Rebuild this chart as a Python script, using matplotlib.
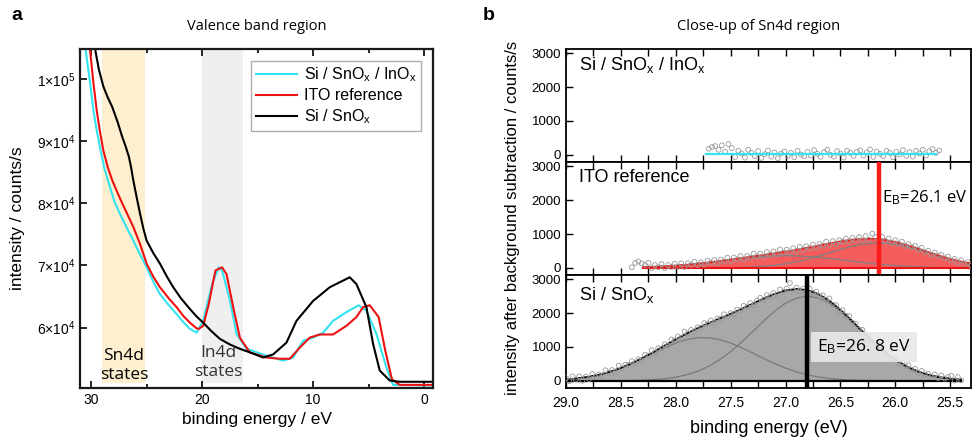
import numpy as np
import matplotlib.pyplot as plt
from matplotlib.ticker import MultipleLocator

plt.rcParams['font.family'] = ['Liberation Sans', 'DejaVu Sans']
plt.rcParams['mathtext.fontset'] = 'custom'
plt.rcParams['mathtext.rm'] = 'Liberation Sans'
plt.rcParams['mathtext.it'] = 'Liberation Sans:italic'

# ---- panel a: valence band spectra (binding energy eV, counts/s) ----
e_blk = [29.64, 29.3, 28.9, 28.5, 28.1, 27.6, 27.2, 26.9, 26.6, 26.4, 26.2, 25.9, 25.6, 25.3, 25.0, 24.4,
         23.8, 23.2, 22.6, 21.9, 21.1, 20.5, 19.9, 19.2, 18.4, 17.5, 16.6, 15.5, 14.5, 13.6, 12.4, 11.5,
         10.0, 8.5, 6.7, 6.1, 5.2, 4.6, 4.0, 3.1, 2.2, -0.8]
i_blk = [104800, 101500, 98800, 97000, 95500, 93000, 90700, 89200, 87500, 85800, 83700, 81000, 78400, 76000, 74000, 72000,
         70300, 68300, 66500, 64700, 63000, 61800, 60800, 59500, 58200, 57300, 56600, 55900, 55200, 55700, 57600, 61100,
         64300, 66500, 68100, 67000, 63300, 57400, 53100, 51500, 51300, 51300]

e_cyn = [30.5, 30.1, 29.8, 29.5, 29.2, 28.8, 28.3, 27.9, 27.4, 26.8, 26.2, 25.6, 25.0, 24.4, 23.8, 23.0,
         22.3, 21.7, 21.1, 20.5, 19.9, 19.1, 18.5, 18.2, 17.5, 16.9, 16.0, 14.2, 12.7, 11.8, 10.9, 10.0,
         9.1, 8.2, 7.0, 5.9, 5.2, 4.3, 3.4, 2.8, -0.8]
i_cyn = [104700, 99500, 95000, 91800, 89000, 85600, 82600, 80300, 78300, 76100, 74000, 71800, 69700, 67400, 65400, 63600,
         62200, 60900, 59800, 59200, 61100, 67000, 69700, 69200, 64400, 59000, 56600, 55500, 54700, 55200, 57900, 58400,
         59200, 61100, 62500, 63600, 62700, 59000, 53600, 50800, 50700]

e_red = [30.1, 29.8, 29.5, 29.2, 28.9, 28.5, 28.1, 27.6, 27.2, 26.7, 26.2, 25.6, 25.0, 24.4, 23.8, 23.0,
         22.3, 21.7, 21.1, 20.5, 20.3, 19.9, 19.4, 18.8, 18.2, 17.8, 17.2, 16.6, 15.7, 14.2, 13.0, 12.1,
         11.2, 10.3, 9.4, 8.2, 7.0, 6.1, 5.5, 4.9, 4.1, 3.5, 2.9, 2.2, -0.8]
i_red = [104700, 99500, 95000, 91500, 88500, 85800, 83700, 81600, 80000, 78100, 76200, 73500, 70300, 68200, 66500, 64700,
         63300, 61900, 60800, 59900, 59800, 60300, 63800, 69200, 69700, 68600, 63300, 58400, 56000, 55200, 55000, 55000,
         56800, 58400, 58900, 58900, 60300, 61700, 63300, 63600, 61700, 56300, 51700, 50800, 50800]

a_labels = ['Si / SnO$_\\mathrm{x}$ / InO$_\\mathrm{x}$', 'ITO reference', 'Si / SnO$_\\mathrm{x}$']
a_yticks = [60000, 70000, 80000, 90000, 100000]
a_yticklabels = ['6×10$^4$', '7×10$^4$', '8×10$^4$', '9×10$^4$', '1×10$^5$']
sn4d_band = (29.0, 25.1)
in4d_band = (20.0, 16.3)

# ---- panel b: Sn4d close-up, fitted components on a 0.1 eV grid ----
e_fit_bot = [29.0, 28.9, 28.8, 28.7, 28.6, 28.5, 28.4, 28.3, 28.2, 28.1, 28.0, 27.9, 27.8, 27.7, 27.6, 27.5,
             27.4, 27.3, 27.2, 27.1, 27.0, 26.9, 26.8, 26.7, 26.6, 26.5, 26.4, 26.3, 26.2, 26.1, 26.0, 25.9,
             25.8, 25.7, 25.6, 25.5, 25.4]
c1_bot = [43, 72, 116, 180, 266, 377, 511, 663, 824, 981, 1117, 1219, 1273, 1273, 1219, 1117,
          981, 824, 663, 511, 377, 266, 180, 116, 72, 43, 24, 13, 7, 3, 2, 1,
          0, 0, 0, 0, 0]
c2_bot = [0, 0, 0, 1, 2, 5, 10, 19, 35, 63, 109, 180, 284, 430, 622, 862,
          1143, 1452, 1765, 2056, 2292, 2446, 2500, 2446, 2292, 2056, 1765, 1452, 1143, 862, 622, 430,
          284, 180, 109, 63, 35]

e_fit_mid = [28.3, 28.2, 28.1, 28.0, 27.9, 27.8, 27.7, 27.6, 27.5, 27.4, 27.3, 27.2, 27.1, 27.0, 26.9, 26.8,
             26.7, 26.6, 26.5, 26.4, 26.3, 26.2, 26.1, 26.0, 25.9, 25.8, 25.7, 25.6, 25.5, 25.4, 25.3]
c1_mid = [22, 33, 48, 68, 93, 124, 159, 198, 237, 276, 310, 337, 354, 360, 354, 337,
          310, 276, 237, 198, 159, 124, 93, 68, 48, 33, 22, 14, 8, 5, 3]
c2_mid = [0, 0, 0, 0, 0, 1, 2, 4, 8, 15, 27, 47, 77, 122, 181, 257,
          347, 446, 545, 633, 700, 735, 735, 700, 633, 545, 446, 347, 257, 181, 122]

e_fit_top = [27.72, 25.63]
fit_top = [30, 30]

# measured points (0.03 eV steps)
e_pts_bot = np.round(np.arange(29.0, 25.39, -0.03), 2)
pts_bot = [83, -8, 130, 39, 131, 4, 127, 52, 202, 122, 191, 157, 313, 239, 321, 265, 449, 366, 478, 469,
           581, 529, 638, 596, 767, 750, 904, 828, 963, 959, 1084, 1039, 1223, 1198, 1311, 1273, 1454, 1395, 1502, 1460,
           1577, 1571, 1705, 1678, 1781, 1712, 1843, 1835, 1966, 1898, 1999, 1972, 2106, 2080, 2214, 2180, 2296, 2231, 2367, 2452,
           2388, 2530, 2481, 2593, 2537, 2698, 2629, 2723, 2886, 2669, 2752, 2642, 2723, 2643, 2716, 2601, 2636, 2492, 2523, 2393,
           2434, 2244, 2235, 2065, 2087, 1924, 1911, 1717, 1690, 1513, 1505, 1351, 1346, 1151, 1133, 958, 982, 811, 819, 656,
           654, 516, 548, 430, 462, 328, 353, 234, 292, 191, 210, 119, 187, 86, 160, 66, 112, 150, 12, 113, 15]
e_pts_mid = np.round(np.arange(28.4, 25.30, -0.03), 2)
pts_mid = [15, 148, 190, 131, 84, 148, -9, 86, 20, 114, -2, 84, 30, 126, 33, 131, 28, 136, 86, 185,
           85, 166, 97, 217, 149, 232, 134, 246, 189, 302, 205, 309, 253, 346, 250, 354, 298, 422, 336, 420,
           324, 468, 382, 486, 401, 546, 452, 537, 453, 579, 505, 623, 531, 638, 587, 686, 594, 704, 653, 773,
           682, 790, 698, 816, 772, 867, 781, 884, 812, 911, 809, 939, 829, 1009, 910, 800, 921, 795, 867, 739,
           818, 712, 776, 640, 700, 610, 649, 537, 594, 461, 508, 386, 454, 352, 382, 283, 334, 218, 264, 160,
           226, 108, 169, 71]
e_pts_top = np.round(np.arange(27.7, 25.59, -0.03), 2)
pts_top = [180, 230, 260, 150, 280, 90, 320, 200, -60, 120, 40, -80, 150, 60, -40, 110, -90, 20, 130, -50,
           70, -100, 40, 100, -30, 60, -70, 120, 10, -40, 90, -20, 140, 30, -60, 80, 150, 0, -50, 110,
           40, -80, 120, 60, -30, 90, 130, -20, 70, 160, -60, 100, 30, -40, 120, 60, -70, 90, 10, 140,
           -30, 80, -50, 120, 40, 150, -20, 110, 170, 60, 130]

peak_ito = 26.15
peak_snox = 26.8
b_labels = ['Si / SnO$_\\mathrm{x}$ / InO$_\\mathrm{x}$', 'ITO reference', 'Si / SnO$_\\mathrm{x}$']

# ================= figure =================
fig = plt.figure(figsize=(9.72, 4.41), dpi=100)

axa = fig.add_axes([0.0823, 0.1202, 0.3632, 0.7687])
axa.axvspan(*sn4d_band, ymin=0.015, ymax=1, color='#fdefcf', lw=0, zorder=0)
axa.axvspan(*in4d_band, ymin=0.015, ymax=1, color='#efefef', lw=0, zorder=0)
axa.plot(e_cyn, i_cyn, color='#33e3ee', lw=1.5, label=a_labels[0])
axa.plot(e_red, i_red, color='#ee1111', lw=1.5, label=a_labels[1])
axa.plot(e_blk, i_blk, color='black', lw=1.5, label=a_labels[2])
axa.set_xlim(31.0, -0.8)
axa.set_ylim(50300, 104800)
axa.set_xticks([30, 20, 10, 0])
axa.xaxis.set_minor_locator(MultipleLocator(5))
axa.set_yticks(a_yticks, a_yticklabels)
axa.tick_params(which='both', direction='in', top=True, labelsize=10)
axa.tick_params(which='major', length=5, width=1.2)
axa.tick_params(which='minor', length=3, width=1.2)
axa.tick_params(axis='y', right=False)
for s in axa.spines.values():
    s.set_linewidth(1.6)
    s.set_color('#1a1a1a')
axa.set_xlabel('binding energy / eV', fontsize=12.5, labelpad=4)
axa.set_ylabel('intensity / counts/s', fontsize=12.5)
axa.yaxis.set_label_coords(-0.155, 0.5)
axa.set_title('Valence band region', fontsize=10.5, family='Open Sans', pad=14)
leg = axa.legend(loc='upper right', bbox_to_anchor=(0.975, 0.975), fontsize=11.5, frameon=True,
                 fancybox=False, edgecolor='#999999', handlelength=2.6, handletextpad=0.4,
                 labelspacing=0.25, borderpad=0.3, borderaxespad=0.2)
leg.get_frame().set_linewidth(1.0)
axa.text(27.05, 0.065, 'Sn4d\nstates', transform=axa.get_xaxis_transform(), ha='center', va='center',
         fontsize=12.5, family='Open Sans', linespacing=1.25)
axa.text(18.5, 0.074, 'In4d\nstates', transform=axa.get_xaxis_transform(), ha='center', va='center',
         fontsize=12.5, family='Open Sans', linespacing=1.25, color='#333333')

# panel b
b_left, b_w, b_h = 0.5823, 0.4167, 0.2562
bottoms = [0.6327, 0.3764, 0.1202]
axs = [fig.add_axes([b_left, b, b_w, b_h]) for b in bottoms]
ax_top, ax_mid, ax_bot = axs

mk = dict(marker='o', facecolors='none', edgecolors='#999999', s=12, linewidths=0.6, zorder=3)

ax_top.scatter(e_pts_top, pts_top, **mk)
ax_top.plot(e_fit_top, fit_top, color='#33e3ee', lw=1.6, zorder=4)

env_mid = np.array(c1_mid) + np.array(c2_mid)
ax_mid.fill_between(e_fit_mid, 0, env_mid, color='#f55c5c', lw=0, zorder=1)
ax_mid.plot(e_fit_mid, c1_mid, color='#808080', lw=0.9, zorder=2)
ax_mid.plot(e_fit_mid, c2_mid, color='#808080', lw=0.9, zorder=2)
ax_mid.plot(e_fit_mid, env_mid, color='#ee1111', lw=1.3, zorder=2)
ax_mid.plot([e_fit_mid[0], e_fit_mid[-1]], [0, 0], color='#ee1111', lw=1.5, zorder=2)
ax_mid.scatter(e_pts_mid, pts_mid, **mk)
ax_mid.axvline(peak_ito, color='#ff1a1a', lw=3.2, zorder=5)
ax_mid.text(26.12, 2080, 'E$_\\mathrm{B}$=26.1 eV', fontsize=12, family='Open Sans', va='center', ha='left', zorder=6)

env_bot = np.array(c1_bot) + np.array(c2_bot)
ax_bot.fill_between(e_fit_bot, 0, env_bot, color='#a8a8a8', lw=0, zorder=1)
ax_bot.plot(e_fit_bot, c1_bot, color='#7a7a7a', lw=0.9, zorder=2)
ax_bot.plot(e_fit_bot, c2_bot, color='#7a7a7a', lw=0.9, zorder=2)
ax_bot.plot(e_fit_bot, env_bot, color='black', lw=1.3, zorder=2)
ax_bot.plot([e_fit_bot[0], e_fit_bot[-1]], [0, 0], color='black', lw=1.6, zorder=2)
ax_bot.scatter(e_pts_bot, pts_bot, **mk)
ax_bot.axvline(peak_snox, color='black', lw=3.2, zorder=5)
ax_bot.text(26.71, 1000, 'E$_\\mathrm{B}$=26. 8 eV', fontsize=12.5, family='Open Sans', va='center', ha='left', zorder=6,
            bbox=dict(boxstyle='square,pad=0.35', fc='#e8e8e8', ec='none', alpha=0.9))

label_y = [0.858, 0.867, 0.823]
for ax, lab, ly in zip(axs, b_labels, label_y):
    ax.set_xlim(29.0, 25.31)
    ax.set_ylim(-210, 3125)
    ax.set_yticks([0, 1000, 2000, 3000])
    ax.xaxis.set_major_locator(MultipleLocator(0.5))
    ax.xaxis.set_minor_locator(MultipleLocator(0.25))
    ax.tick_params(which='both', direction='in', top=True, labelsize=9.5)
    ax.tick_params(which='major', length=5, width=1.0)
    ax.tick_params(which='minor', length=5, width=1.0)
    for s in ax.spines.values():
        s.set_linewidth(1.3)
    ax.text(0.032, ly, lab, transform=ax.transAxes, fontsize=13, va='center', ha='left', zorder=7)
    if ax is not ax_bot:
        ax.tick_params(labelbottom=False)
ax_bot.tick_params(axis='x', pad=6, labelsize=10)
ax_bot.xaxis.set_major_formatter(plt.FormatStrFormatter('%.1f'))
ax_bot.set_xlabel('binding energy (eV)', fontsize=13, labelpad=7)

fig.text(0.527, 0.505, 'intensity after background subtraction / counts/s', rotation=90,
         ha='center', va='center', fontsize=12)
fig.text(0.78, 0.94, 'Close-up of Sn4d region', ha='center', va='center', fontsize=10.5, family='Open Sans')

fig.text(0.012, 0.965, 'a', fontsize=14, fontweight='bold', ha='left', va='center')
fig.text(0.497, 0.965, 'b', fontsize=14, fontweight='bold', ha='left', va='center')

fig.savefig('out.png', dpi=100)
